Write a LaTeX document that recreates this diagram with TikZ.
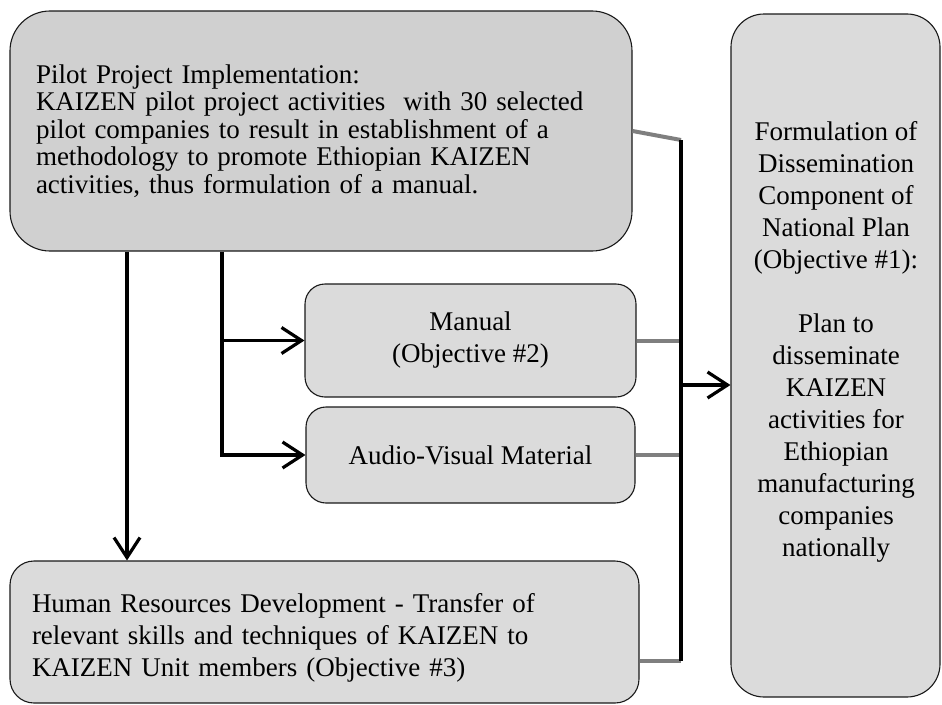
\documentclass[tikz,border=0pt]{standalone}
\usepackage{fontspec}
\setmainfont{Liberation Serif}
\usetikzlibrary{arrows.meta}
\definecolor{pilotfill}{HTML}{D0D0D0}
\definecolor{boxfill}{HTML}{DBDBDB}
\definecolor{feedgray}{HTML}{7F7F7F}
\begin{document}
\begin{tikzpicture}[x=1pt,y=-1pt,
  box/.style={draw=black!90, line width=1.1pt, fill=boxfill, rounded corners=#1, inner sep=0pt},
  box/.default=20pt,
  txt/.style={font=\fontsize{27}{32}\selectfont},
  flow/.style={line width=3.2pt, -{Straight Barb[length=20pt,width=26pt,line width=3.2pt]}},
  feed/.style={draw=feedgray, line width=4pt},
  busline/.style={line width=3.2pt}
]
\useasboundingbox (0,0) rectangle (942,704);

% boxes
\node[box=40pt, fill=pilotfill, minimum width=622pt, minimum height=240pt,
      text width=570pt, align=left, font=\fontsize{27}{27.5}\selectfont]
  (pilot) at (321,131)
  {Pilot Project Implementation:\\
   KAIZEN pilot project activities\ \ with 30 selected\\
   pilot companies to result in establishment of a\\
   methodology to promote Ethiopian KAIZEN\\
   activities,\ thus formulation of a manual.};

\node[box=20pt, minimum width=331pt, minimum height=113pt, align=center, txt]
  (manual) at (470.5,340.5) {Manual\\(Objective \#2)};

\node[box=20pt, minimum width=329pt, minimum height=96pt, align=center, txt]
  (av) at (470.5,455) {Audio-Visual\ Material};

\node[box=24pt, minimum width=629pt, minimum height=142pt,
      text width=585pt, align=left, txt]
  (hr) at (324.5,632)
  {\rule{0pt}{30pt}Human Resources Development - Transfer of\\
   relevant\ skills and techniques of KAIZEN to\\
   KAIZEN Unit\ members (Objective \#3)};

\node[box=33pt, minimum width=209pt, minimum height=683pt] (plan) at (835.5,355.5) {};
\node[align=center, txt, inner sep=0pt] (plantext) at (836,342)
  {Formulation of\\Dissemination\\Component of\\National Plan\\(Objective \#1):\\[32pt]
   Plan to\\disseminate\\KAIZEN\\activities\ for\\Ethiopian\\manufacturing\\companies\\nationally};

% routing points
\coordinate (hrdrop) at (127,0);
\coordinate (split) at (222,0);
\coordinate (bustop) at (681,140);
\coordinate (busbot) at (681,661);
\coordinate (busout) at (681,385);

% downward flows
\draw[flow] (pilot.south -| hrdrop) -- (hr.north -| hrdrop);
\draw[flow] (pilot.south -| split) |- (av.west);
\draw[flow] (split |- manual.west) -- (manual.west);

% feeds into the collecting bus
\draw[feed] (pilot.east) -- (bustop);
\draw[feed] (manual.east) -- (manual.east -| bustop);
\draw[feed] (av.east) -- (av.east -| bustop);
\draw[feed] (hr.east |- busbot) -- (busbot);
\draw[busline] (bustop) -- (busbot);
\draw[flow] (busout) -- (plan.west |- busout);
\end{tikzpicture}
\end{document}
